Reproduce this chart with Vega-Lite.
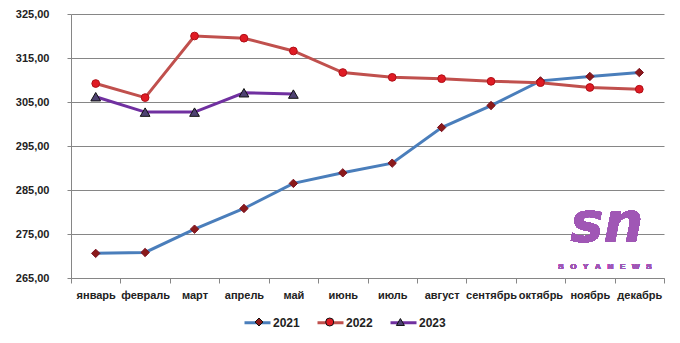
{
  "$schema": "https://vega.github.io/schema/vega-lite/v6.json",
  "autosize": {"type": "none"},
  "width": 593,
  "height": 264,
  "padding": {"left": 71, "top": 14, "right": 16, "bottom": 65},
  "background": "white",
  "config": {
    "view": {"stroke": null},
    "font": "Liberation Sans",
    "axis": {"labelFont": "Liberation Sans", "labelFontWeight": "bold", "labelFontSize": 11, "labelColor": "#222222"}
  },
  "data": {
    "values": [
      {"month": "январь", "year": "2021", "value": 270.6},
      {"month": "февраль", "year": "2021", "value": 270.8},
      {"month": "март", "year": "2021", "value": 276.1},
      {"month": "апрель", "year": "2021", "value": 280.8},
      {"month": "май", "year": "2021", "value": 286.5},
      {"month": "июнь", "year": "2021", "value": 288.9},
      {"month": "июль", "year": "2021", "value": 291.1},
      {"month": "август", "year": "2021", "value": 299.2},
      {"month": "сентябрь", "year": "2021", "value": 304.2},
      {"month": "октябрь", "year": "2021", "value": 309.8},
      {"month": "ноябрь", "year": "2021", "value": 310.8},
      {"month": "декабрь", "year": "2021", "value": 311.7},
      {"month": "январь", "year": "2022", "value": 309.2},
      {"month": "февраль", "year": "2022", "value": 306.0},
      {"month": "март", "year": "2022", "value": 320.0},
      {"month": "апрель", "year": "2022", "value": 319.5},
      {"month": "май", "year": "2022", "value": 316.6},
      {"month": "июнь", "year": "2022", "value": 311.7},
      {"month": "июль", "year": "2022", "value": 310.6},
      {"month": "август", "year": "2022", "value": 310.3},
      {"month": "сентябрь", "year": "2022", "value": 309.7},
      {"month": "октябрь", "year": "2022", "value": 309.4},
      {"month": "ноябрь", "year": "2022", "value": 308.3},
      {"month": "декабрь", "year": "2022", "value": 307.9},
      {"month": "январь", "year": "2023", "value": 306.2},
      {"month": "февраль", "year": "2023", "value": 302.7},
      {"month": "март", "year": "2023", "value": 302.7},
      {"month": "апрель", "year": "2023", "value": 307.1},
      {"month": "май", "year": "2023", "value": 306.8}
    ]
  },
  "encoding": {
    "x": {
      "field": "month", "type": "nominal", "title": null,
      "sort": ["январь","февраль","март","апрель","май","июнь","июль","август","сентябрь","октябрь","ноябрь","декабрь"],
      "scale": {"paddingInner": 0, "paddingOuter": 0},
      "axis": {"labelAngle": 0, "tickBand": "extent", "tickSize": 5, "tickColor": "#868686", "domainColor": "#868686", "labelPadding": 6, "grid": false}
    },
    "y": {
      "field": "value", "type": "quantitative", "title": null,
      "scale": {"domain": [265, 325], "nice": false, "zero": false},
      "axis": {"values": [265, 275, 285, 295, 305, 315, 325], "labelExpr": "replace(format(datum.value, '.2f'), '.', ',')", "grid": true, "gridColor": "#868686", "gridWidth": 1, "tickSize": 4, "tickColor": "#868686", "domainColor": "#868686", "labelPadding": 18}
    }
  },
  "layer": [
    {
      "mark": {"type": "text", "text": "sn", "font": "DejaVu Sans", "fontSize": 56, "fontStyle": "oblique", "fontWeight": "bold", "color": "#a057b5", "baseline": "alphabetic", "align": "center", "dx": 17},
      "encoding": {"x": {"datum": "ноябрь"}, "y": {"datum": 273.4}}
    },
    {
      "mark": {"type": "text", "text": "S\u00a0\u00a0\u00a0O\u00a0\u00a0\u00a0Y\u00a0\u00a0\u00a0A\u00a0\u00a0\u00a0N\u00a0\u00a0\u00a0E\u00a0\u00a0\u00a0W\u00a0\u00a0\u00a0S", "font": "Liberation Sans", "fontSize": 8, "fontWeight": "bold", "color": "#a057b5", "baseline": "middle", "align": "center", "dx": 15},
      "encoding": {"x": {"datum": "ноябрь"}, "y": {"datum": 267.5}}
    },
    {
      "mark": {"type": "line", "strokeWidth": 3},
      "encoding": {
        "color": {
          "field": "year", "type": "nominal",
          "scale": {"domain": ["2021","2022","2023"], "range": ["#4a7ebb","#c0504d","#7030a0"]},
          "legend": {
            "title": null, "orient": "none", "direction": "horizontal",
            "legendX": 172, "legendY": 294,
            "labelFontSize": 12, "labelFont": "Liberation Sans", "labelFontWeight": "bold", "labelColor": "#222222",
            "symbolType": "stroke", "symbolSize": 676, "symbolStrokeWidth": 3, "columnPadding": 11, "labelOffset": 1
          }
        }
      }
    },
    {
      "mark": {"type": "point", "filled": true, "strokeWidth": 1, "opacity": 1},
      "encoding": {
        "shape": {"field": "year", "type": "nominal", "scale": {"range": ["diamond","circle","triangle-up"]},
          "legend": {
            "title": null, "orient": "none", "direction": "horizontal",
            "legendX": 182, "legendY": 302,
            "labelFontSize": 12, "labelFont": "Liberation Sans", "labelFontWeight": "bold", "labelExpr": "''",
            "symbolSize": 64, "symbolStrokeWidth": 1, "columnPadding": 57.7, "labelOffset": 1
          }
        },
        "fill": {"field": "year", "type": "nominal", "scale": {"range": ["#8b1a1a","#e01b24","#4e4272"]},
          "legend": {
            "title": null, "orient": "none", "direction": "horizontal",
            "legendX": 182, "legendY": 302,
            "labelFontSize": 12, "labelFont": "Liberation Sans", "labelFontWeight": "bold", "labelExpr": "''",
            "symbolSize": 64, "symbolStrokeWidth": 1, "columnPadding": 57.7, "labelOffset": 1
          }
        },
        "stroke": {"condition": [{"test": "datum.year == '2021'", "value": "#7a1020"}, {"test": "datum.year == '2022'", "value": "#b01018"}], "value": "#111111"},
        "size": {"condition": [{"test": "datum.year == '2021'", "value": 70}, {"test": "datum.year == '2022'", "value": 60}], "value": 95}
      }
    }
  ]
}
